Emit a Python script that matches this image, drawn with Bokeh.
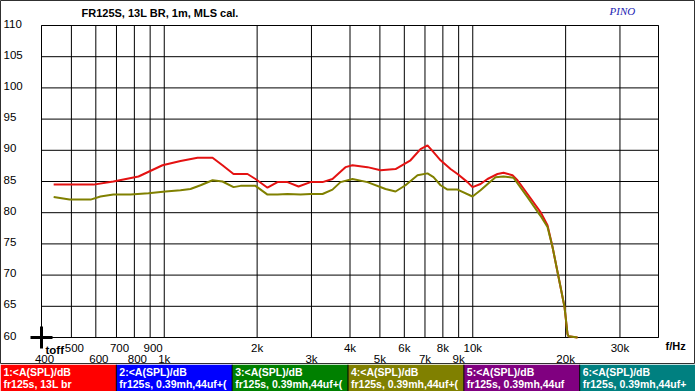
from bokeh.plotting import figure
from bokeh.models import Range1d
from bokeh.layouts import column
from bokeh.embed import file_html
from bokeh.resources import INLINE
from bokeh.core.properties import value

# ---- data ----
red_freq = [438, 590, 684, 825, 987, 1129, 1282, 1434, 1544, 1677, 1861, 1976,
            2161, 2328, 2509, 2724, 2979, 3258, 3510, 3810, 3868, 4075, 4557,
            5023, 5619, 6284, 6771, 7133, 7460, 7864, 8472, 8926, 9616, 9982,
            10597, 11164, 12029, 12577, 13453, 13962, 15047, 16581, 17470,
            18136, 18969, 19832, 20280, 20432, 21852]
red_db = [84.5, 84.5, 85.0, 85.8, 87.6, 88.3, 88.8, 88.8, 87.6, 86.2, 86.2, 85.4,
          84.0, 84.9, 84.9, 84.2, 84.9, 84.9, 85.4, 87.0, 87.3, 87.6, 87.3,
          86.8, 87.0, 88.4, 90.2, 90.8, 89.7, 88.4, 87.0, 86.2, 84.9, 84.1,
          84.6, 85.4, 86.2, 86.4, 86.0, 85.2, 83.0, 80.1, 78.0,
          74.5, 69.7, 64.9, 60.6, 60.2, 60.0]

olive_freq = [438, 493, 577, 621, 684, 777, 889, 1009, 1129, 1216, 1311, 1434,
              1544, 1677, 1767, 1976, 2161, 2328, 2509, 2764, 2979, 3258, 3510,
              3726, 4075, 4557, 5215, 5619, 6053, 6621, 7133, 7460, 7864, 8281,
              8926, 9982, 10597, 11417, 11851, 12577, 13552, 15047, 16581,
              17470, 18136, 18969, 19832, 20280, 20432, 21852]
olive_db = [82.5, 82.1, 82.1, 82.6, 82.9, 82.9, 83.1, 83.4, 83.6, 83.8, 84.4, 85.2,
            85.0, 84.1, 84.3, 84.3, 82.9, 82.9, 83.0, 82.9, 83.0, 83.0, 83.7,
            84.9, 85.4, 84.9, 83.8, 83.4, 84.4, 86.0, 86.3, 85.7, 84.4, 83.7,
            83.7, 82.6, 83.6, 85.0, 85.7, 85.8, 85.6, 82.5, 79.5,
            77.7, 74.5, 69.7, 64.9, 60.6, 60.2, 60.0]

f_min, f_max = 400, 40000
db_min, db_max = 60, 110

db_ticks = [60, 65, 70, 75, 80, 85, 90, 95, 100, 105, 110]
db_labels = ["60", "65", "70", "75", "80", "85", "90", "95", "100", "105", "110"]

grid_freqs = [500, 600, 700, 800, 900, 1000, 2000, 3000, 4000, 5000, 6000,
              7000, 8000, 9000, 10000, 20000, 30000]

upper_hund_freqs = [500, 700, 900]
upper_hund_labels = ["500", "700", "900"]
lower_hund_freqs = [400, 600, 800]
lower_hund_labels = ["400", "600", "800"]
upper_k_freqs = [2000, 4000, 6000, 8000, 10000, 30000]
upper_k_labels = ["2k", "4k", "6k", "8k", "10k", "30k"]
lower_k_freqs = [1000, 3000, 5000, 7000, 9000, 20000]
lower_k_labels = ["1k", "3k", "5k", "7k", "9k", "20k"]

legend_colors = ["#ff0000", "#0000ff", "#008000", "#808000", "#800080", "#008080"]
legend_line1 = ["1:<A(SPL)/dB", "2:<A(SPL)/dB", "3:<A(SPL)/dB",
                "4:<A(SPL)/dB", "5:<A(SPL)/dB", "6:<A(SPL)/dB"]
legend_line2 = ["fr125s, 13L br", "fr125s, 0.39mh,44uf+(", "fr125s, 0.39mh,44uf+(",
                "fr125s, 0.39mh,44uf+(", "fr125s, 0.39mh,44uf", "fr125s, 0.39mh,44uf+"]

FONT = value("Liberation Sans")

# ---- layout geometry (pixels) ----
W, H_MAIN, H_LEG = 695, 364, 27
PLOT_L, PLOT_R, PLOT_T, PLOT_B = 41, 658, 25, 337
px_per_decade = (PLOT_R - PLOT_L) / 2.0
px_per_db = (PLOT_B - PLOT_T) / float(db_max - db_min)
x_lo = f_min / 10 ** (PLOT_L / px_per_decade)
x_hi = f_max * 10 ** ((W - PLOT_R) / px_per_decade)
y_lo = db_min - (H_MAIN - PLOT_B) / px_per_db
y_hi = db_max + PLOT_T / px_per_db

p = figure(width=W, height=H_MAIN, x_axis_type="log",
           x_range=Range1d(x_lo, x_hi), y_range=Range1d(y_lo, y_hi),
           output_backend="svg", toolbar_location=None,
           x_axis_location=None, y_axis_location=None, min_border=0)
p.background_fill_color = "white"
p.border_fill_color = "white"
p.outline_line_color = "#303030"
p.outline_line_width = 1
p.grid.visible = False

# grid lines inside the plot area
p.segment(x0=grid_freqs, y0=[db_min] * len(grid_freqs),
          x1=grid_freqs, y1=[db_max] * len(grid_freqs),
          line_color="black", line_width=1)
p.segment(x0=[f_min] * len(db_ticks), y0=db_ticks,
          x1=[f_max] * len(db_ticks), y1=db_ticks,
          line_color="black", line_width=1)
p.quad(left=[f_min], right=[f_max], bottom=[db_min], top=[db_max],
       fill_color=None, line_color="black", line_width=1)

# curves
p.line(red_freq, red_db, line_color="#e41212", line_width=2)
p.line(olive_freq, olive_db, line_color="#808000", line_width=2)

# y tick labels
p.text(x=[f_min] * len(db_ticks), y=db_ticks, text=db_labels,
       x_offset=-38, y_offset=-2, text_align="left", text_baseline="middle",
       text_font=FONT, text_font_size="11.5px", text_color="black")

def xlabels(freqs, labels, yoff, xoff):
    p.text(x=freqs, y=[db_min] * len(freqs), text=labels, x_offset=xoff,
           y_offset=yoff, text_align="center", text_baseline="middle",
           text_font=FONT, text_font_size="11.5px", text_color="black")

xlabels(upper_hund_freqs, upper_hund_labels, 10, 3)
xlabels(lower_hund_freqs, lower_hund_labels, 21, 3)
xlabels(upper_k_freqs, upper_k_labels, 10, 0)
xlabels(lower_k_freqs, lower_k_labels, 21, 0)

p.text(x=[f_max], y=[db_min], text=["f/Hz"], x_offset=7, y_offset=8,
       text_align="left", text_baseline="middle", text_font=FONT,
       text_font_size="11px", text_font_style="bold", text_color="black")
p.text(x=[f_min], y=[db_min], text=["toff"], x_offset=4, y_offset=12,
       text_align="left", text_baseline="middle", text_font=FONT,
       text_font_size="11.5px", text_font_style="bold", text_color="black")
p.text(x=[f_min], y=[db_max], text=["FR125S, 13L BR, 1m, MLS cal."],
       x_offset=40, y_offset=-13, text_align="left", text_baseline="middle",
       text_font=FONT, text_font_size="11px", text_font_style="bold",
       text_color="black")
p.text(x=[f_max], y=[db_max], text=["PINO"], x_offset=-49, y_offset=-15,
       text_align="left", text_baseline="middle",
       text_font=value("Liberation Serif"), text_font_size="11px",
       text_font_style="italic", text_color="#2424b4")

# cursor cross at the origin
p.scatter(x=[f_min], y=[db_min], marker="cross", size=22, line_width=3,
          line_color="black")

# ---- legend strip ----
lg = figure(width=W, height=H_LEG, x_range=Range1d(0, 6), y_range=Range1d(0, 1),
            output_backend="svg", toolbar_location=None,
            x_axis_location=None, y_axis_location=None, min_border=0)
lg.grid.visible = False
lg.outline_line_color = None
lg.border_fill_color = "white"
for i, (c, t1, t2) in enumerate(zip(legend_colors, legend_line1, legend_line2)):
    lg.quad(left=[i], right=[i + 1], top=[1], bottom=[0], fill_color=c, line_color=None)
    lg.text(x=[i, i], y=[0.715, 0.285], text=[t1, t2], x_offset=3,
            text_color="white", text_font=FONT, text_font_style="bold",
            text_font_size="10.5px", text_baseline="middle", text_align="left")
lg.segment(x0=[1, 2, 3, 4, 5], y0=[0] * 5, x1=[1, 2, 3, 4, 5], y1=[1] * 5,
           line_color="black", line_width=1)

layout = column(p, lg, spacing=0)

open("out.html", "w").write(file_html(layout, INLINE))
